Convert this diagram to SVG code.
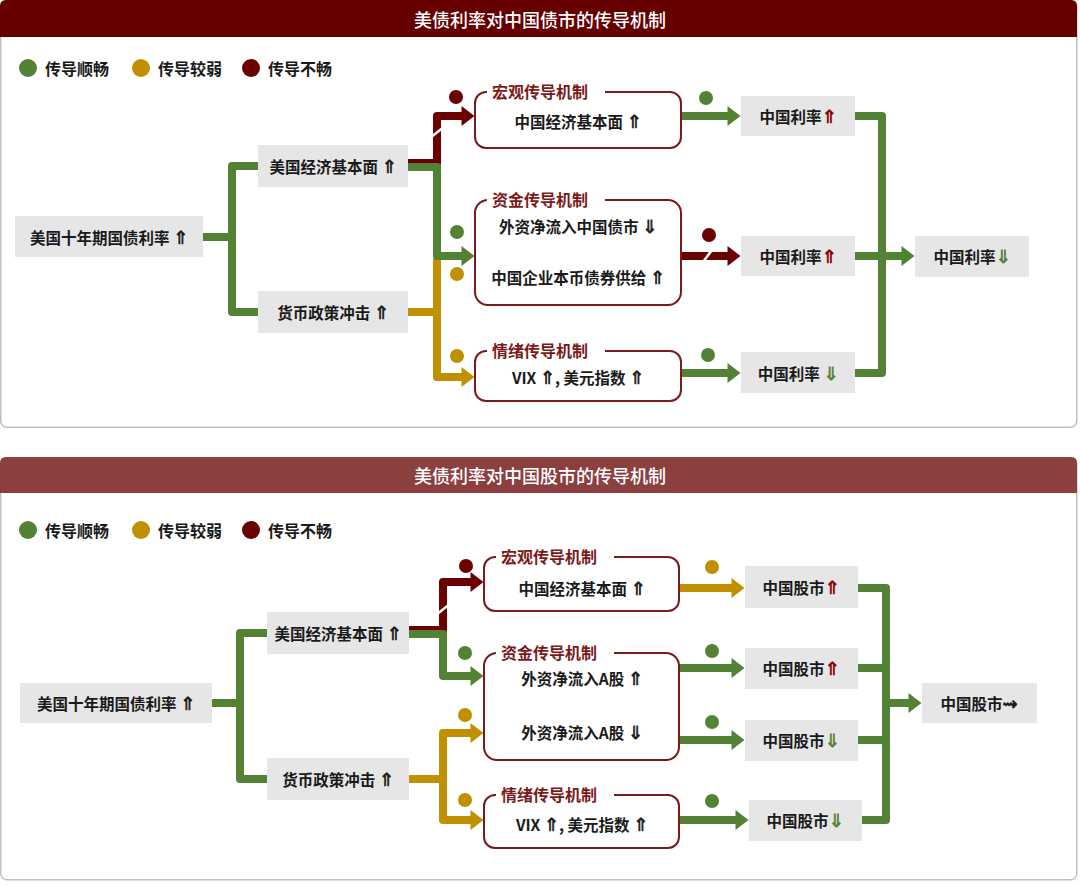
<svg xmlns="http://www.w3.org/2000/svg" width="1080" height="886" viewBox="0 0 1080 886">
<defs>
<style>
.t{font-family:"Noto Sans CJK SC","Liberation Sans",sans-serif;font-size:15.5px;font-weight:700;fill:#1a1a1a;text-anchor:middle;dominant-baseline:central}
.a{font-family:"DejaVu Sans",sans-serif;font-weight:400;font-size:18px;stroke:#1a1a1a;stroke-width:0.7}
.lg{font-family:"Noto Sans CJK SC","Liberation Sans",sans-serif;font-size:16px;font-weight:700;fill:#1a1a1a;dominant-baseline:central}
.hd{font-family:"Noto Sans CJK SC","Liberation Sans",sans-serif;font-size:18px;font-weight:500;fill:#fff;text-anchor:middle;dominant-baseline:central}
.bl{font-family:"Noto Sans CJK SC","Liberation Sans",sans-serif;font-size:16px;font-weight:700;fill:#7b1a1a;dominant-baseline:central}
.nd{fill:#e6e6e6}
.bx{fill:#fff;stroke:#7b1a1a;stroke-width:2}
.frame{fill:#fff;stroke:#bfbfbf;stroke-width:1.5}
.g{fill:none;stroke:#548235;stroke-width:8;stroke-linejoin:round}
.o{fill:none;stroke:#c09000;stroke-width:8;stroke-linejoin:round}
.r{fill:none;stroke:#6b0000;stroke-width:8;stroke-linejoin:round}
.cut{stroke:#fff;stroke-width:2.5}
.a.up{fill:#8b0000;stroke:#8b0000}
.a.dn{fill:#548235;stroke:#548235}
</style>
<marker id="ag" markerUnits="userSpaceOnUse" markerWidth="14" markerHeight="20" viewBox="0 0 13 20" refX="0.5" refY="10" orient="auto"><path d="M0,0 L13,10 L0,20 z" fill="#548235"/></marker>
<marker id="ao" markerUnits="userSpaceOnUse" markerWidth="14" markerHeight="20" viewBox="0 0 13 20" refX="0.5" refY="10" orient="auto"><path d="M0,0 L13,10 L0,20 z" fill="#c09000"/></marker>
<marker id="ar" markerUnits="userSpaceOnUse" markerWidth="14" markerHeight="20" viewBox="0 0 13 20" refX="0.5" refY="10" orient="auto"><path d="M0,0 L13,10 L0,20 z" fill="#6b0000"/></marker>
</defs>

<!-- ===== TOP PANEL ===== -->
<g id="panel-top">
<rect class="frame" x="0.75" y="0.75" width="1076" height="426.5" rx="6"/>
<path d="M0,37 V6 Q0,0 6,0 H1071 Q1077,0 1077,6 V37 Z" fill="#660000"/>
<text class="hd" x="540" y="19">美债利率对中国债市的传导机制</text>
</g>
<g id="legend-top">
<circle cx="28" cy="68" r="9" fill="#548235"/><text class="lg" x="45" y="68">传导顺畅</text>
<circle cx="141" cy="68" r="9" fill="#c09000"/><text class="lg" x="158" y="68">传导较弱</text>
<circle cx="251" cy="68" r="9" fill="#6b0000"/><text class="lg" x="268" y="68">传导不畅</text>
</g>

<g id="connectors-top">
<path class="g" d="M203,237 H232"/>
<path class="g" d="M258,166 H232 V312 H258"/>
<path class="r" d="M408,163 H437 V116 H462" marker-end="url(#ar)"/>
<line class="cut" x1="430" y1="138" x2="445" y2="126"/>
<path class="o" d="M408,312 H437"/>
<path class="o" d="M437,259 V377 H462" marker-end="url(#ao)"/>
<path class="g" d="M408,167 H437 V256 H462" marker-end="url(#ag)"/>
<path class="g" d="M681,116 H728" marker-end="url(#ag)"/>
<path class="r" d="M681,256 H728" marker-end="url(#ar)"/>
<line class="cut" x1="703" y1="262" x2="712" y2="250"/>
<path class="g" d="M681,373 H728" marker-end="url(#ag)"/>
<path class="g" d="M855,116 H882 V373 H855"/>
<path class="g" d="M855,256 H902" marker-end="url(#ag)"/>
<circle cx="456" cy="97" r="7" fill="#6b0000"/>
<circle cx="457" cy="232" r="7" fill="#548235"/>
<circle cx="457" cy="274" r="7" fill="#c09000"/>
<circle cx="457" cy="356" r="7" fill="#c09000"/>
<circle cx="706" cy="98" r="7" fill="#548235"/>
<circle cx="709" cy="235" r="7" fill="#6b0000"/>
<circle cx="708" cy="355" r="7" fill="#548235"/>
</g>

<g id="t-us10y"><rect class="nd" x="15" y="216" width="188" height="41"/><text class="t" x="109" y="237">美国十年期国债利率 <tspan class="a">⇑</tspan></text></g>
<g id="t-useco"><rect class="nd" x="258" y="145" width="150" height="42"/><text class="t" x="333" y="166">美国经济基本面 <tspan class="a">⇑</tspan></text></g>
<g id="t-mon"><rect class="nd" x="258" y="291" width="150" height="42"/><text class="t" x="333" y="312">货币政策冲击 <tspan class="a">⇑</tspan></text></g>

<g id="t-macro"><rect class="bx" x="475" y="92" width="206" height="56" rx="11"/><rect x="487" y="85" width="118" height="14" fill="#fff"/><text class="bl" x="492" y="91">宏观传导机制</text><text class="t" x="578" y="121">中国经济基本面 <tspan class="a">⇑</tspan></text></g>
<g id="t-fund"><rect class="bx" x="475" y="200" width="206" height="105" rx="13"/><rect x="487" y="193" width="118" height="14" fill="#fff"/><text class="bl" x="492" y="199">资金传导机制</text><text class="t" x="578" y="226">外资净流入中国债市 <tspan class="a">⇓</tspan></text><text class="t" x="578" y="277">中国企业本币债券供给 <tspan class="a">⇑</tspan></text></g>
<g id="t-mood"><rect class="bx" x="475" y="351" width="206" height="50" rx="11"/><rect x="487" y="344" width="118" height="14" fill="#fff"/><text class="bl" x="492" y="350">情绪传导机制</text><text class="t" x="578" y="377">VIX <tspan class="a">⇑</tspan>, 美元指数 <tspan class="a">⇑</tspan></text></g>

<g id="t-r1"><rect class="nd" x="741" y="96" width="114" height="40"/><text class="t" x="798" y="116">中国利率<tspan class="a up">⇑</tspan></text></g>
<g id="t-r2"><rect class="nd" x="741" y="236" width="114" height="40"/><text class="t" x="798" y="256">中国利率<tspan class="a up">⇑</tspan></text></g>
<g id="t-r3"><rect class="nd" x="741" y="352" width="114" height="41"/><text class="t" x="798" y="373">中国利率 <tspan class="a dn">⇓</tspan></text></g>
<g id="t-final"><rect class="nd" x="915" y="236" width="114" height="41"/><text class="t" x="972" y="256">中国利率<tspan class="a dn">⇓</tspan></text></g>

<!-- ===== BOTTOM PANEL ===== -->
<g id="panel-bottom">
<rect class="frame" x="0.75" y="457.75" width="1076" height="422" rx="6"/>
<path d="M0,493 V463 Q0,457 6,457 H1071 Q1077,457 1077,463 V493 Z" fill="#8c3f3f"/>
<text class="hd" x="540" y="475">美债利率对中国股市的传导机制</text>
</g>
<g id="legend-bottom">
<circle cx="28" cy="530" r="9" fill="#548235"/><text class="lg" x="45" y="530">传导顺畅</text>
<circle cx="141" cy="530" r="9" fill="#c09000"/><text class="lg" x="158" y="530">传导较弱</text>
<circle cx="251" cy="530" r="9" fill="#6b0000"/><text class="lg" x="268" y="530">传导不畅</text>
</g>

<g id="connectors-bottom">
<path class="g" d="M212,703 H240"/>
<path class="g" d="M267,633 H240 V779 H267"/>
<path class="r" d="M409,630 H443 V582 H471" marker-end="url(#ar)"/>
<line class="cut" x1="436" y1="615" x2="451" y2="603"/>
<path class="g" d="M409,634 H443 V676 H471" marker-end="url(#ag)"/>
<path class="o" d="M409,779 H443"/>
<path class="o" d="M471,733 H443 V820 H471" marker-end="url(#ao)"/>
<path class="o" d="M443,733 H471" marker-end="url(#ao)"/>
<path class="o" d="M679,588 H732" marker-end="url(#ao)"/>
<path class="g" d="M679,668 H732" marker-end="url(#ag)"/>
<path class="g" d="M679,740 H732" marker-end="url(#ag)"/>
<path class="g" d="M679,820 H736" marker-end="url(#ag)"/>
<path class="g" d="M858,588 H886 V820 H862"/>
<path class="g" d="M858,668 H886"/>
<path class="g" d="M858,740 H886"/>
<path class="g" d="M886,703 H909" marker-end="url(#ag)"/>
<circle cx="466" cy="566" r="7" fill="#6b0000"/>
<circle cx="465" cy="653" r="7" fill="#548235"/>
<circle cx="465" cy="715" r="7" fill="#c09000"/>
<circle cx="465" cy="800" r="7" fill="#c09000"/>
<circle cx="712" cy="567" r="7" fill="#c09000"/>
<circle cx="712" cy="651" r="7" fill="#548235"/>
<circle cx="712" cy="722" r="7" fill="#548235"/>
<circle cx="712" cy="801" r="7" fill="#548235"/>
</g>

<g id="b-us10y"><rect class="nd" x="20" y="683" width="192" height="40"/><text class="t" x="116" y="703">美国十年期国债利率 <tspan class="a">⇑</tspan></text></g>
<g id="b-useco"><rect class="nd" x="267" y="612" width="142" height="42"/><text class="t" x="338" y="633">美国经济基本面 <tspan class="a">⇑</tspan></text></g>
<g id="b-mon"><rect class="nd" x="267" y="758" width="142" height="42"/><text class="t" x="338" y="779">货币政策冲击 <tspan class="a">⇑</tspan></text></g>

<g id="b-macro"><rect class="bx" x="484" y="557" width="195" height="54" rx="11"/><rect x="496" y="550" width="118" height="14" fill="#fff"/><text class="bl" x="501" y="556">宏观传导机制</text><text class="t" x="582" y="588">中国经济基本面 <tspan class="a">⇑</tspan></text></g>
<g id="b-fund"><rect class="bx" x="484" y="653" width="195" height="107" rx="13"/><rect x="496" y="646" width="118" height="14" fill="#fff"/><text class="bl" x="501" y="652">资金传导机制</text><text class="t" x="582" y="678">外资净流入A股 <tspan class="a">⇑</tspan></text><text class="t" x="582" y="732">外资净流入A股 <tspan class="a">⇓</tspan></text></g>
<g id="b-mood"><rect class="bx" x="484" y="795" width="195" height="53" rx="11"/><rect x="496" y="788" width="118" height="14" fill="#fff"/><text class="bl" x="501" y="794">情绪传导机制</text><text class="t" x="582" y="824">VIX <tspan class="a">⇑</tspan>, 美元指数 <tspan class="a">⇑</tspan></text></g>

<g id="b-r1"><rect class="nd" x="745" y="566" width="113" height="42"/><text class="t" x="801" y="587">中国股市<tspan class="a up">⇑</tspan></text></g>
<g id="b-r2"><rect class="nd" x="745" y="648" width="113" height="41"/><text class="t" x="801" y="668">中国股市<tspan class="a up">⇑</tspan></text></g>
<g id="b-r3"><rect class="nd" x="745" y="720" width="113" height="41"/><text class="t" x="801" y="740">中国股市<tspan class="a dn">⇓</tspan></text></g>
<g id="b-r4"><rect class="nd" x="749" y="800" width="113" height="41"/><text class="t" x="805" y="820">中国股市<tspan class="a dn">⇓</tspan></text></g>
<g id="b-final"><rect class="nd" x="922" y="683" width="115" height="40"/><text class="t" x="979" y="703">中国股市<tspan class="a">⇝</tspan></text></g>
</svg>
